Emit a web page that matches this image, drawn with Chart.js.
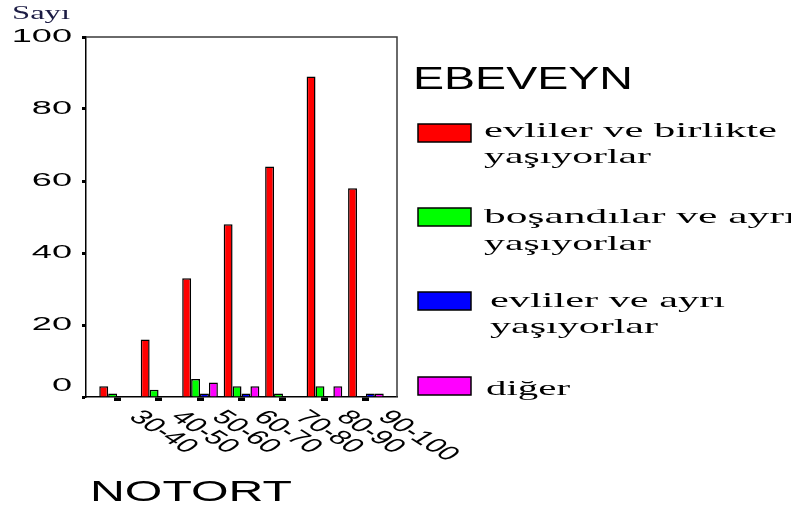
<!DOCTYPE html>
<html><head><meta charset="utf-8">
<script src="https://cdn.jsdelivr.net/npm/chart.js@4.4.1/dist/chart.umd.min.js"></script>
<style>html,body{margin:0;padding:0;background:#fff;overflow:hidden}#wrap{width:791px;height:511px;position:relative}</style>
</head><body><div id="wrap"><canvas id="c" width="791" height="511"></canvas></div>
<script>
// ---- data ----
const categories = ['30-40', '40-50', '50-60', '60-70', '70-80', '80-90', '90-100'];
const legendTitle = 'EBEVEYN';
const xTitle = 'NOTORT';
const yTitle = 'Sayı';
const seriesLabelLines = [
  ['evliler ve birlikte', 'yaşıyorlar'],
  ['boşandılar ve ayrı', 'yaşıyorlar'],
  ['evliler ve ayrı', 'yaşıyorlar'],
  ['diğer']
];
const livingTogether = [3, 16, 33, 48, 64, 89, 58];
const divorcedApart  = [1, 2, 5, 3, 1, 3, 0];
const marriedApart   = [0, 0, 1, 1, 0, 0, 1];
const otherParents   = [0, 0, 4, 3, 0, 3, 1];
const yTicks = [0, 20, 40, 60, 80, 100];

const seriesValues = [livingTogether, divorcedApart, marriedApart, otherParents];
const seriesColors = ['#ff0000', '#00ff00', '#0000ff', '#ff00ff'];

function stretchText(ctx, text, x, y, font, opts) {
  ctx.save();
  ctx.font = font;
  ctx.textBaseline = opts.baseline || 'alphabetic';
  ctx.textAlign = 'left';
  const mw = ctx.measureText(text).width;
  const sx = opts.width ? opts.width / mw : (opts.sx || 1);
  const w = mw * sx;
  const x0 = opts.align === 'right' ? x - w : opts.align === 'center' ? x - w / 2 : x;
  ctx.translate(x0, y);
  ctx.scale(sx, 1);
  ctx.fillStyle = opts.color || '#000';
  ctx.fillText(text, 0, 0);
  ctx.restore();
}

const decorPlugin = {
  id: 'decor',
  afterDraw(chart) {
    const ctx = chart.ctx;
    const a = chart.chartArea;
    const xs = chart.scales.x, ys = chart.scales.y;
    // frame top & right
    ctx.save();
    ctx.strokeStyle = '#3a3a3a';
    ctx.lineWidth = 1.5;
    ctx.beginPath();
    ctx.moveTo(a.left, a.top);
    ctx.lineTo(a.right, a.top);
    ctx.lineTo(a.right, a.bottom);
    ctx.stroke();
    ctx.restore();

    // y tick labels
    yTicks.forEach(v => {
      let y = ys.getPixelForValue(v);
      if (v === 0) y -= 11;
      stretchText(ctx, String(v), 72, y, '19px "Liberation Sans"', {sx: 1.9, align: 'right', baseline: 'middle', color: '#000'});
    });
    // y title
    stretchText(ctx, yTitle, 12, 19, '19px "Liberation Serif"', {width: 58, color: '#1c1c44'});

    // x tick labels (rotated, stretched)
    categories.forEach((c, i) => {
      const x = xs.getPixelForValue(i);
      ctx.save();
      ctx.translate(x + 17, 414);
      ctx.scale(1.6, 1);
      ctx.rotate(Math.PI / 4);
      ctx.font = '20px "Liberation Sans"';
      ctx.textBaseline = 'middle';
      ctx.textAlign = 'left';
      ctx.fillStyle = '#000';
      ctx.fillText(c, 0, 0);
      ctx.restore();
    });
    // x title
    stretchText(ctx, xTitle, 90, 501, '30px "Liberation Sans"', {width: 202, color: '#000'});

    // legend
    stretchText(ctx, legendTitle, 413, 89, '31px "Liberation Sans"', {width: 220, color: '#000'});
    const swY = [124, 208, 292, 377];
    const textX = [484, 484, 490, 486];
    const base = [[137, 163], [223, 250], [307, 333], [395]];
    const widths = [[293, 167], [312, 167], [235, 168], [84]];
    chart.data.datasets.forEach((ds, k) => {
      ctx.save();
      ctx.fillStyle = ds.backgroundColor;
      ctx.fillRect(418, swY[k], 53, 18);
      ctx.strokeStyle = '#000';
      ctx.lineWidth = 1.5;
      ctx.strokeRect(418, swY[k], 53, 18);
      ctx.restore();
      seriesLabelLines[k].forEach((line, j) => {
        stretchText(ctx, line, textX[k], base[k][j], '22px "Liberation Serif"', {width: widths[k][j], color: '#000'});
      });
    });
  }
};

new Chart(document.getElementById('c'), {
  type: 'bar',
  data: {
    datasets: seriesValues.map((vals, k) => ({
      label: seriesLabelLines[k].join(' '),
      data: vals.map((v, i) => ({x: i, y: v})),
      backgroundColor: seriesColors[k],
      borderColor: '#000',
      borderWidth: 1.5,
      categoryPercentage: 0.86,
      barPercentage: 1
    }))
  },
  options: {
    responsive: false,
    animation: false,
    devicePixelRatio: 1,
    layout: {padding: {left: 78, top: 37, right: 394, bottom: 0}},
    plugins: {legend: {display: false}, tooltip: {enabled: false}},
    scales: {
      x: {
        type: 'linear',
        min: -0.75,
        max: 6.75,
        offset: false,
        afterBuildTicks: s => { s.ticks = categories.map((_, i) => ({value: i})); },
        afterFit: s => { s.height = 114; },
        ticks: {display: false},
        grid: {offset: false, drawOnChartArea: false, drawTicks: true, tickLength: 4, tickWidth: 7, tickColor: '#000'},
        border: {display: true, color: '#000', width: 1.5}
      },
      y: {
        min: 0,
        max: 100,
        afterBuildTicks: s => { s.ticks = yTicks.map(v => ({value: v})); },
        afterFit: s => { s.width = 8; },
        ticks: {display: false, stepSize: 20},
        grid: {drawOnChartArea: false, drawTicks: true, tickLength: 4, tickWidth: 3, tickColor: '#000'},
        border: {display: true, color: '#000', width: 1.5}
      }
    }
  },
  plugins: [decorPlugin]
});
</script>
</body></html>
